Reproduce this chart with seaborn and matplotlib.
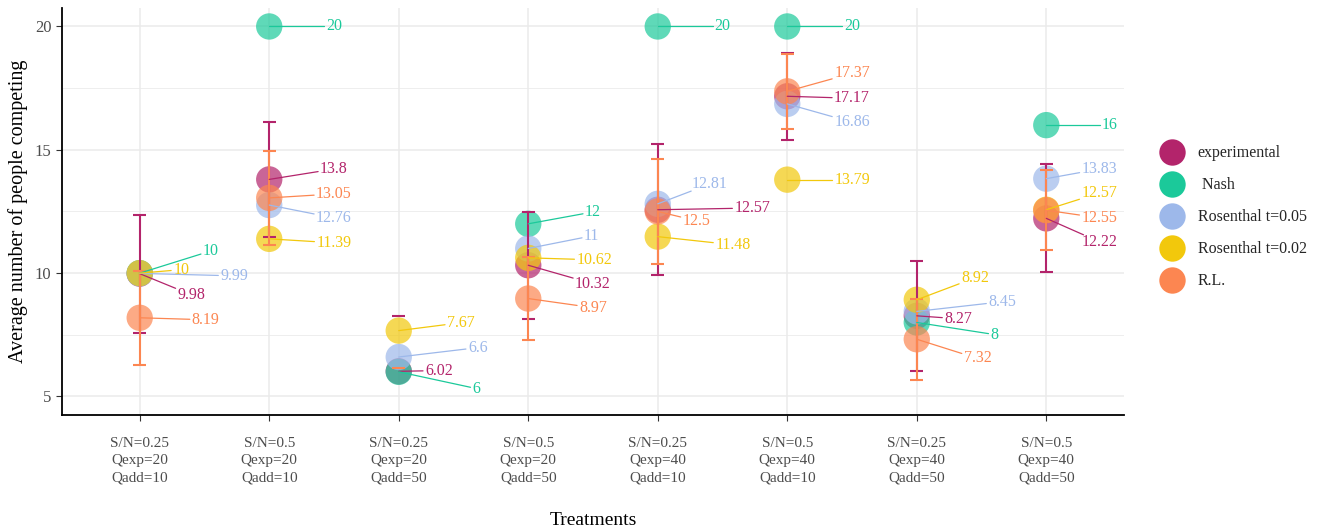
import numpy as np
import pandas as pd
import matplotlib
matplotlib.use("Agg")
import matplotlib.pyplot as plt
from matplotlib.lines import Line2D
import seaborn as sns

# treatments on the x axis
treatments = [
    "S/N=0.25\nQexp=20\nQadd=10",
    "S/N=0.5\nQexp=20\nQadd=10",
    "S/N=0.25\nQexp=20\nQadd=50",
    "S/N=0.5\nQexp=20\nQadd=50",
    "S/N=0.25\nQexp=40\nQadd=10",
    "S/N=0.5\nQexp=40\nQadd=10",
    "S/N=0.25\nQexp=40\nQadd=50",
    "S/N=0.5\nQexp=40\nQadd=50",
]

# series values
experimental = [9.98, 13.8, 6.02, 10.32, 12.57, 17.17, 8.27, 12.22]
nash = [10, 20, 6, 12, 20, 20, 8, 16]
rosenthal_05 = [9.99, 12.76, 6.6, 11, 12.81, 16.86, 8.45, 13.83]
rosenthal_02 = [10, 11.39, 7.67, 10.62, 11.48, 13.79, 8.92, 12.57]
rl = [8.19, 13.05, np.nan, 8.97, 12.5, 17.37, 7.32, 12.55]

# error bars (lower end outside the axis range -> missing)
exp_lo = [7.59, 11.48, np.nan, 8.16, 9.92, 15.40, 6.04, 10.03]
exp_hi = [12.36, 16.12, 8.25, 12.48, 15.22, 18.94, 10.50, 14.41]
rl_lo = [6.29, 11.15, np.nan, 7.29, 10.39, 15.85, 5.67, 10.92]
rl_hi = [10.09, 14.95, 6.15, 10.65, 14.61, 18.89, 8.97, 14.18]

models = ["experimental", " Nash", "Rosenthal t=0.05", "Rosenthal t=0.02", "R.L."]
colors = {
    "experimental": "#B3246B",
    " Nash": "#1BC99A",
    "Rosenthal t=0.05": "#9DB8EA",
    "Rosenthal t=0.02": "#F2C80C",
    "R.L.": "#FC8651",
}

# label placement (offset from the point: category units, data units)
label_offsets = {
    "experimental": [(0.40, -0.86), (0.50, 0.42), (0.31, 0.03), (0.50, -0.75),
                     (0.73, 0.07), (0.50, -0.08), (0.32, -0.12), (0.41, -0.95)],
    " Nash": [(0.55, 0.90), (0.50, 0.0), (0.60, -0.68), (0.50, 0.48),
              (0.50, 0.0), (0.50, 0.0), (0.60, -0.49), (0.49, 0.0)],
    "Rosenthal t=0.05": [(0.73, -0.10), (0.50, -0.52), (0.61, 0.38), (0.49, 0.51),
                         (0.40, 0.80), (0.50, -0.74), (0.66, 0.39), (0.41, 0.39)],
    "Rosenthal t=0.02": [(0.32, 0.14), (0.50, -0.16), (0.48, 0.32), (0.51, -0.08),
                         (0.58, -0.33), (0.50, 0.0), (0.45, 0.89), (0.41, 0.68)],
    "R.L.": [(0.51, -0.08), (0.50, 0.16), (0.0, 0.0), (0.50, -0.37),
             (0.30, -0.38), (0.50, 0.73), (0.47, -0.78), (0.41, -0.31)],
}

values = {
    "experimental": experimental,
    " Nash": nash,
    "Rosenthal t=0.05": rosenthal_05,
    "Rosenthal t=0.02": rosenthal_02,
    "R.L.": rl,
}

rows = []
for m in models:
    for i, v in enumerate(values[m]):
        rows.append({"pos": i, "value": v, "model": m})
df = pd.DataFrame(rows).dropna()

sns.set_theme(style="whitegrid")
plt.rcParams["font.family"] = ["Liberation Serif", "DejaVu Serif"]

fig = plt.figure(figsize=(13.25, 5.31), dpi=100)
ax = fig.add_axes([0.0468, 0.2185, 0.8015, 0.7665])
ax.set_facecolor("white")

sns.scatterplot(data=df, x="pos", y="value", hue="model", palette=colors,
                hue_order=models, s=360, alpha=0.7, linewidth=0,
                legend=False, ax=ax, zorder=3)

# error bars
pos = np.arange(len(treatments))
cap = 0.05
for lo, hi, col in [(exp_lo, exp_hi, colors["experimental"]),
                    (rl_lo, rl_hi, colors["R.L."])]:
    lo = np.array(lo, dtype=float)
    hi = np.array(hi, dtype=float)
    ok = ~np.isnan(lo)
    ax.vlines(pos[ok], lo[ok], hi[ok], color=col, lw=1.5, zorder=4)
    ax.hlines(hi, pos - cap, pos + cap, color=col, lw=1.5, zorder=4)
    ax.hlines(lo[ok], pos[ok] - cap, pos[ok] + cap, color=col, lw=1.5, zorder=4)

ax.set_xlim(-0.6, 7.6)
ax.set_ylim(4.25, 20.75)
ax.set_yticks([5, 10, 15, 20])
ax.set_yticks([7.5, 12.5, 17.5], minor=True)
ax.set_xticks(pos)
ax.set_xticklabels(treatments, fontsize=11, color="#4D4D4D", linespacing=1.42)
ax.tick_params(axis="y", labelsize=12, labelcolor="#4D4D4D")
ax.tick_params(axis="both", which="major", length=4, width=0.8, color="#333333",
               bottom=True, left=True)
ax.tick_params(axis="x", pad=12)
ax.tick_params(axis="y", which="minor", length=0)
ax.grid(which="major", color="#EBEBEB", lw=1.1)
ax.grid(which="minor", axis="y", color="#EBEBEB", lw=0.6)
for s in ["top", "right"]:
    ax.spines[s].set_visible(False)
for s in ["left", "bottom"]:
    ax.spines[s].set_color("black")
    ax.spines[s].set_linewidth(1.3)

ax.set_xlabel("Treatments", fontsize=14, color="black", labelpad=20)
ax.set_ylabel("Average number of people competing", fontsize=14.5,
              color="black", labelpad=5)

# value labels with leader segments
texts = []
for m in models:
    for i, v in enumerate(values[m]):
        if np.isnan(v):
            continue
        dx, dy = label_offsets[m][i]
        lab = f"{v:g}"
        t = ax.text(i + dx, v + dy, lab, color=colors[m], fontsize=11.5,
                    ha="center", va="center", zorder=6)
        texts.append((t, i, v, colors[m]))

fig.canvas.draw()
r = fig.canvas.get_renderer()
inv = ax.transData.inverted()
for t, i, v, col in texts:
    bb = t.get_window_extent(r)
    cx, cy = (bb.x0 + bb.x1) / 2, (bb.y0 + bb.y1) / 2
    w, h = bb.width / 2 + 2, bb.height / 2 - 1
    px, py = ax.transData.transform((i, v))
    ddx, ddy = px - cx, py - cy
    if abs(ddx) <= w and abs(ddy) <= h:
        continue
    tt = min(w / abs(ddx) if ddx else np.inf, h / abs(ddy) if ddy else np.inf)
    ex, ey = inv.transform((cx + ddx * tt, cy + ddy * tt))
    ax.plot([i, ex], [v, ey], color=col, lw=0.9, zorder=5)

handles = [Line2D([0], [0], marker="o", linestyle="", markersize=19,
                  markerfacecolor=colors[m], markeredgewidth=0) for m in models]
fig.legend(handles, models, loc="center left", bbox_to_anchor=(0.8785, 0.591),
           frameon=False, fontsize=11.5, handlelength=1.0, handletextpad=1.1,
           labelspacing=1.0, borderaxespad=0, borderpad=0)

fig.savefig("out.png", dpi=100)
